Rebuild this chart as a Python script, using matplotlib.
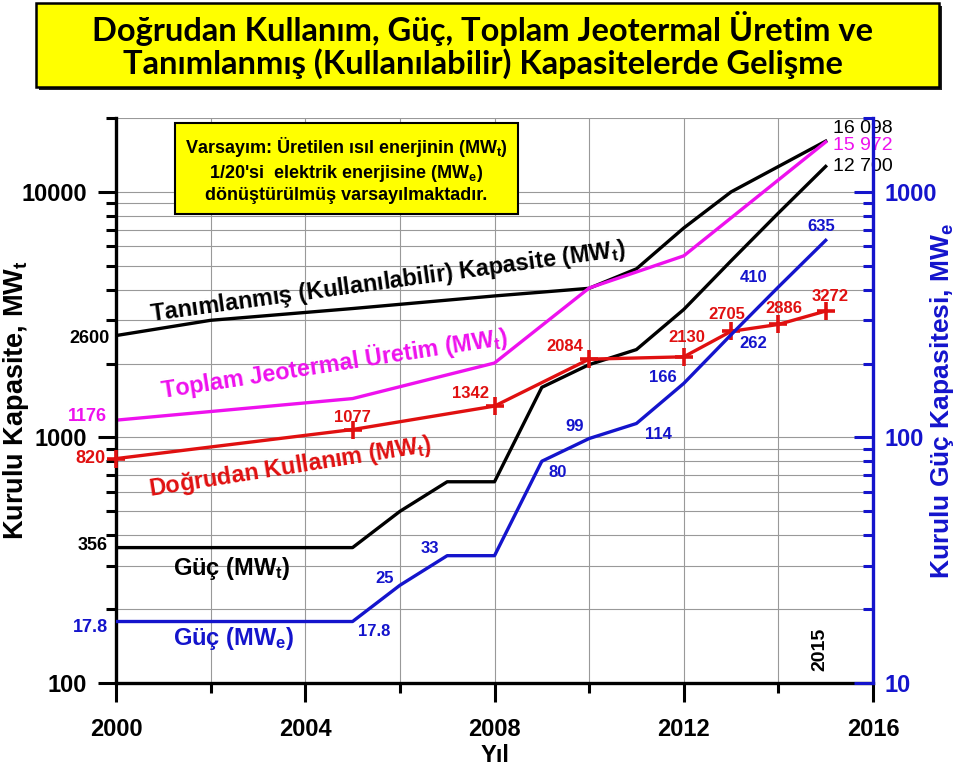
import matplotlib
matplotlib.use('Agg')
import matplotlib.pyplot as plt
import matplotlib.transforms as mtransforms
from matplotlib.patches import Rectangle
from matplotlib.ticker import FixedLocator, LogLocator, NullFormatter, FixedFormatter

plt.rcParams['font.family'] = ['Liberation Sans', 'DejaVu Sans']
plt.rcParams['font.weight'] = 'bold'
plt.rcParams['mathtext.fontset'] = 'custom'
plt.rcParams['mathtext.rm'] = 'Liberation Sans:bold'
plt.rcParams['mathtext.bf'] = 'Liberation Sans:bold'
plt.rcParams['mathtext.it'] = 'Liberation Sans:bold'

# Tanımlanmış (kullanılabilir) kapasite, MWt
years_kap = [2000, 2002, 2005, 2008, 2010, 2011, 2012, 2013, 2015]
kapasite = [2600, 3000, 3350, 3770, 4050, 4860, 7130, 10000, 16098]

# Toplam jeotermal üretim, MWt
years_top = [2000, 2005, 2008, 2010, 2011, 2012, 2015]
toplam = [1176, 1440, 2010, 4060, 4720, 5490, 15972]

# Doğrudan kullanım, MWt
years_dk = [2000, 2005, 2008, 2010, 2012, 2013, 2014, 2015]
dogrudan = [820, 1077, 1342, 2084, 2130, 2705, 2886, 3272]

# Güç (elektrik) kapasitesi, MWe ve MWt karşılığı
years_guc = [2000, 2005, 2006, 2007, 2008, 2009, 2010, 2011, 2012, 2013, 2014, 2015]
guc_mwe = [17.8, 17.8, 25, 33, 33, 80, 99, 114, 166, 262, 410, 635]
guc_mwt = [356, 356, 500, 660, 660, 1600, 1980, 2280, 3320, 5240, 8200, 12700]

RED = '#e01010'
MAG = '#ee11ee'
BLUE = '#1414cc'

fig = plt.figure(figsize=(9.6, 7.66), dpi=100)
ax = fig.add_axes([116 / 960, 1 - 683 / 766, 757 / 960, 565 / 766])
ax2 = ax.twinx()

ax.set_yscale('log')
ax.set_ylim(100, 20000)
ax.set_xlim(2000, 2016)
ax2.set_yscale('log')
ax2.set_ylim(10, 2000)

# lines
ax.plot(years_kap, kapasite, color='black', lw=2.4)
ax.plot(years_top, toplam, color=MAG, lw=2.4)
ax.plot(years_guc, guc_mwt, color='black', lw=2.4)
ax.plot(years_dk, dogrudan, color=RED, lw=2.4, marker='+', ms=13, mew=2.6, clip_on=False, zorder=5)
ax2.plot(years_guc, guc_mwe, color=BLUE, lw=2.4)

# axes styling
ax.set_xticks([2000, 2004, 2008, 2012, 2016])
ax.xaxis.set_minor_locator(FixedLocator([2002, 2006, 2010, 2014]))
ax.tick_params(axis='x', which='major', direction='out', length=14, width=2.2, labelsize=17, pad=11)
ax.tick_params(axis='x', which='minor', direction='out', length=7, width=2.2)
ax.yaxis.set_major_locator(FixedLocator([100, 1000, 10000]))
ax.yaxis.set_major_formatter(FixedFormatter(['100', '1000', '10000']))
ax.yaxis.set_minor_locator(LogLocator(base=10, subs=range(2, 10)))
ax.yaxis.set_minor_formatter(NullFormatter())
ax.tick_params(axis='y', which='major', direction='out', length=13, width=2.2, labelsize=17, pad=8)
ax.tick_params(axis='y', which='minor', direction='out', length=7, width=2.2)

ax2.yaxis.set_major_locator(FixedLocator([10, 100, 1000]))
ax2.yaxis.set_major_formatter(FixedFormatter(['10', '100', '1000']))
ax2.yaxis.set_minor_locator(LogLocator(base=10, subs=range(2, 10)))
ax2.yaxis.set_minor_formatter(NullFormatter())
ax2.tick_params(axis='y', which='major', direction='in', length=14, width=2.2, labelsize=17,
                pad=8, colors=BLUE)
ax2.tick_params(axis='y', which='minor', direction='in', length=7, width=2.2, colors=BLUE)

ax.grid(True, which='both', color='#999999', lw=0.8)
for s in ['top', 'right']:
    ax.spines[s].set_visible(False)
for s in ['top', 'left', 'bottom']:
    ax2.spines[s].set_visible(False)
ax.spines['left'].set_linewidth(2.4)
ax.spines['bottom'].set_linewidth(2.4)
ax2.spines['right'].set_linewidth(2.4)
ax2.spines['right'].set_color(BLUE)

ax.set_xlabel('Yıl', fontsize=17, fontweight='bold', labelpad=2)
ax.set_ylabel('Kurulu Kapasite, MW$_\\mathregular{t}$', fontsize=19.5, fontweight='bold')
ax.yaxis.set_label_coords(-0.112, 0.50)
ax2.set_ylabel('Kurulu Güç Kapasitesi, MW$_\\mathregular{e}$', fontsize=19, fontweight='bold',
               color=BLUE)
ax2.yaxis.set_label_coords(1.072, 0.50)

# left-side value labels
tl = mtransforms.blended_transform_factory(ax.transAxes, ax.transData)
tl2 = mtransforms.blended_transform_factory(ax2.transAxes, ax2.transData)
left_lbls = [(kapasite[0], 'black', (-6, -3), tl), (toplam[0], MAG, (-9, 4), tl),
             (dogrudan[0], RED, (-10, 0), tl), (guc_mwt[0], 'black', (-8, 2), tl),
             (guc_mwe[0], BLUE, (-8, -6), tl2)]
for val, col, off, tr in left_lbls:
    ax.annotate(f'{val:g}', (0, val), xycoords=tr, xytext=off, textcoords='offset pixels',
                ha='right', va='center', fontsize=13, color=col, annotation_clip=False)

# red point labels
red_off = [None, (0, 12), (-24, 13), (-24, 13), (3, 19), (-4, 17), (5, 16), (4, 15)]
for yr, v, off in zip(years_dk, dogrudan, red_off):
    if off is None:
        continue
    ax.annotate(f'{v}', (yr, v), xytext=off, textcoords='offset pixels', ha='center',
                va='center', fontsize=12, color=RED)

# blue point labels
blue_off = {2005: (22, -10), 2006: (-15, 7), 2007: (-17, 7), 2009: (16, -11), 2010: (-14, 12),
            2011: (22, -11), 2012: (-21, 6), 2013: (22, -9), 2014: (-25, 9), 2015: (-4, 14)}
for yr, v in zip(years_guc, guc_mwe):
    if yr in blue_off:
        ax2.annotate(f'{v:g}', (yr, v), xytext=blue_off[yr], textcoords='offset pixels',
                     ha='center', va='center', fontsize=12, color=BLUE)

# end values
for val, yr, col, dy in [(kapasite[-1], years_kap[-1], 'black', 13),
                         (toplam[-1], years_top[-1], MAG, -4),
                         (guc_mwt[-1], years_guc[-1], 'black', 0)]:
    s = f'{val:,}'.replace(',', ' ')
    ax.annotate(s, (yr, val), xytext=(7, dy), textcoords='offset pixels', ha='left',
                va='center', fontsize=14, fontweight='normal', color=col,
                annotation_clip=False, zorder=10)

# curve labels
ax.text(0.046, 0.640, 'Tanımlanmış (Kullanılabilir) Kapasite (MW$_\\mathregular{t}$)',
        transform=ax.transAxes, rotation=7.8, rotation_mode='anchor', fontsize=16.8,
        ha='left', va='baseline')
ax.text(0.061, 0.504, 'Toplam Jeotermal Üretim (MW$_\\mathregular{t}$)', color=MAG,
        transform=ax.transAxes, rotation=8.8, rotation_mode='anchor', fontsize=16.8,
        ha='left', va='baseline')
ax.text(0.045, 0.331, 'Doğrudan Kullanım (MW$_\\mathregular{t}$)', color=RED,
        transform=ax.transAxes, rotation=9.0, rotation_mode='anchor', fontsize=16.8,
        ha='left', va='baseline')
ax.text(0.075, 0.191, 'Güç (MW$_\\mathregular{t}$)', transform=ax.transAxes, fontsize=17,
        ha='left', va='baseline')
ax.text(0.075, 0.068, 'Güç (MW$_\\mathregular{e}$)', color=BLUE, transform=ax.transAxes,
        fontsize=17, ha='left', va='baseline')
ax.text(0.930, 0.06, '2015', transform=ax.transAxes, rotation=90, fontsize=14,
        ha='center', va='center')

# note box
ax.text(0.3045, 0.909,
        'Varsayım: Üretilen ısıl enerjinin (MW$_\\mathregular{t}$)\n'
        "1/20'si  elektrik enerjisine (MW$_\\mathregular{e}$)\n"
        'dönüştürülmüş varsayılmaktadır.',
        transform=ax.transAxes, ha='center', va='center', fontsize=13, linespacing=1.25,
        bbox=dict(boxstyle='square,pad=0.55', fc='#ffff00', ec='black', lw=1.5), zorder=20)

# title box with shadow
fig.patches.append(Rectangle((39 / 960, 1 - 90 / 766), 903 / 960, 84 / 766,
                             transform=fig.transFigure, fc='#222222', ec='none'))
fig.patches.append(Rectangle((36 / 960, 1 - 87 / 766), 903 / 960, 84 / 766,
                             transform=fig.transFigure, fc='#ffff00', ec='black', lw=1.8))
fig.text(0.503, 1 - 45 / 766,
         'Doğrudan Kullanım, Güç, Toplam Jeotermal Üretim ve\n'
         'Tanımlanmış (Kullanılabilir) Kapasitelerde Gelişme',
         ha='center', va='center', fontsize=23.5, fontweight='bold', linespacing=1.1,
         family=['Lato', 'DejaVu Sans'])

fig.savefig('out.png', dpi=100)
